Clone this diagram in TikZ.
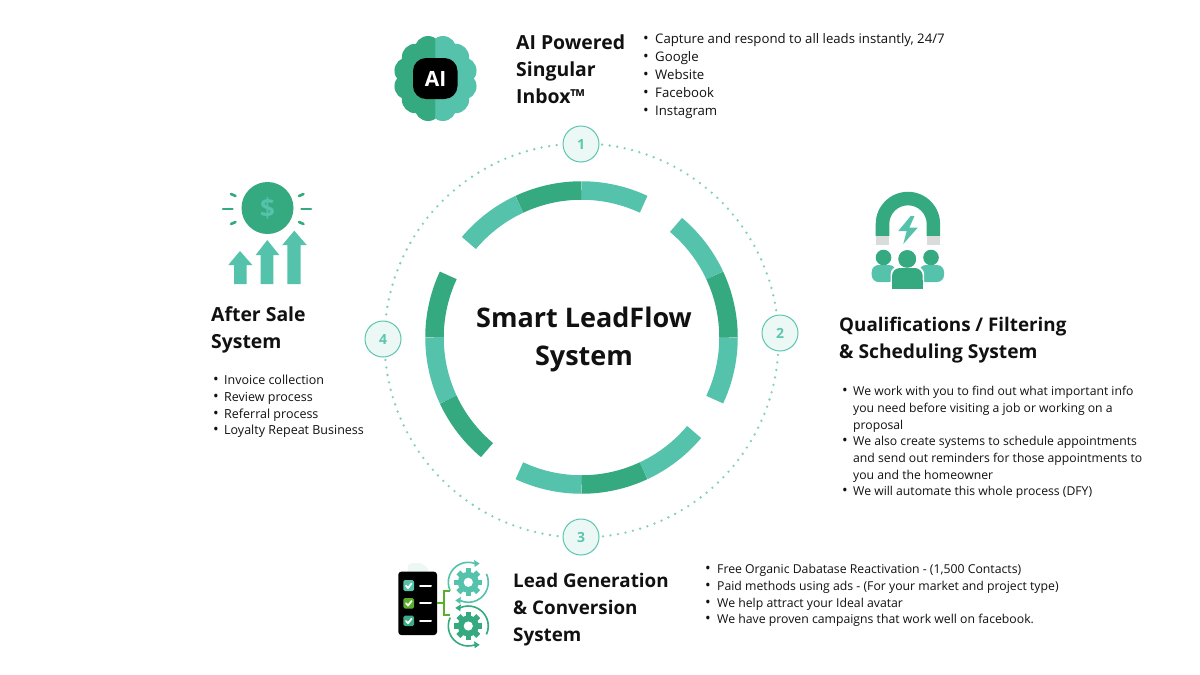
\documentclass[tikz,border=0pt]{standalone}
\usepackage{fontspec}
\setmainfont{Open Sans}
\definecolor{tdark}{HTML}{35A97F}
\definecolor{tlight}{HTML}{55C2AB}
\definecolor{tdot}{HTML}{7FD0BE}
\definecolor{tnum}{HTML}{5CC6AE}
\definecolor{tpale}{HTML}{EBF8F5}
\definecolor{tgreen}{HTML}{5AAE2A}
\definecolor{tgrey}{HTML}{D9DCDB}
\definecolor{tink}{HTML}{111111}
\tikzset{
 titletext/.style={anchor=base west,inner sep=0pt,text=tink,font=\fontsize{#1}{22}\selectfont\bfseries},
 bodytext/.style={anchor=base west,inner sep=0pt,text=tink,font=\fontsize{#1}{16}\selectfont},
 bullettext/.style={anchor=base,inner sep=0pt,text=tink,font=\fontsize{15}{16}\selectfont},
 centertext/.style={anchor=base,inner sep=0pt,text=tink,font=\fontsize{27}{30}\selectfont\bfseries},
 numbadge/.style={circle,draw=tnum,line width=1pt,fill=tpale,minimum size=36pt,inner sep=0pt,text=tnum,font=\fontsize{14}{16}\selectfont\bfseries},
 seg/.style={line width=18.5pt,draw=#1},
 dotring/.style={draw=tdot,line width=2.6pt,line cap=round,dash pattern=on 0pt off 7.6pt},
 rayline/.style={draw=tdark,line width=2.6pt,line cap=round},
 whitebar/.style={draw=white,line width=2pt,line cap=round},
 checkmark/.style={draw=white,line width=1.8pt,line cap=round,line join=round},
}
\newcommand{\ringseg}[3]{\draw[seg=#3] (#1:147pt) arc[start angle=#1,end angle=#2,radius=147pt];}
\newcommand{\gearshape}[4]{% x y colour rot
 \fill[#3] (#1,#2) circle (10.5pt);
 \foreach \a in {0,45,...,315}{\fill[#3,shift={(#1,#2)},rotate=\a+#4] (-2.8pt,0pt) rectangle (2.8pt,14pt);}
 \fill[white] (#1,#2) circle (4.6pt);
}
\begin{document}
\begin{tikzpicture}[x=1pt,y=-1pt]
\useasboundingbox (0,0) rectangle (1200,675);
\fill[white] (0,0) rectangle (1200,675);
% dotted ring
\draw[dotring] (581.5,340.5) circle (197pt);
% main ring
\begin{scope}[shift={(581.5,337.5)},x=1pt,y=1pt]
\ringseg{65}{90}{tlight}\ringseg{90}{115}{tdark}\ringseg{115}{140}{tlight}
\ringseg{-25}{0}{tlight}\ringseg{0}{25}{tdark}\ringseg{25}{50}{tlight}
\ringseg{-115}{-90}{tlight}\ringseg{-90}{-65}{tdark}\ringseg{-65}{-40}{tlight}
\ringseg{155}{180}{tdark}\ringseg{180}{205}{tlight}\ringseg{205}{230}{tdark}
\end{scope}
\node[numbadge] (n1) at (581,144) {1};
\node[numbadge] (n2) at (780,333) {2};
\node[numbadge] (n3) at (581,537) {3};
\node[numbadge] (n4) at (383,339) {4};
\node[centertext] (c1) at (584,327) {Smart LeadFlow};
\node[centertext] (c2) at (584,365) {System};
% ---------- AI icon
\begin{scope}
\clip (380,25) rectangle (435.5,130);
\fill[tdark] (435.5,78.5) circle (34pt);
\foreach \a in {15,45,...,345}{\fill[tdark] (435.5,78.5) ++(\a:28.5pt and 30pt) circle (13.5pt);}
\end{scope}
\begin{scope}
\clip (435.5,25) rectangle (490,130);
\fill[tlight] (435.5,78.5) circle (34pt);
\foreach \a in {15,45,...,345}{\fill[tlight] (435.5,78.5) ++(\a:28.5pt and 30pt) circle (13.5pt);}
\end{scope}
\fill[black,rounded corners=13pt] (413,58) rectangle (457.5,99);
\node[inner sep=0pt,text=white,font=\fontsize{21}{24}\selectfont\bfseries] (ailabel) at (435.5,78.5) {AI};
% ---------- Dollar icon
\fill[tdark] (267.5,208) circle (26pt);
\node[inner sep=0pt,text=tlight,font=\fontsize{26}{28}\selectfont\bfseries] (dollar) at (267.5,208) {\$};
\draw[rayline] (223,209) -- (232.5,209);
\draw[rayline] (301.5,209) -- (311,209);
\draw[rayline] (231,194) -- (235.5,196);
\draw[rayline] (231,224) -- (235.5,222);
\draw[rayline] (299,196) -- (303.5,194);
\draw[rayline] (299,222) -- (303.5,224);
\fill[tlight] (240,251) -- (252.3,265) -- (246.7,265) -- (246.7,284) -- (234,284) -- (234,265) -- (228.3,265) -- cycle;
\fill[tlight] (267.3,240) -- (279.3,255) -- (273.3,255) -- (273.3,284) -- (260.7,284) -- (260.7,255) -- (255.7,255) -- cycle;
\fill[tlight] (294.3,230.7) -- (306.7,245) -- (300.7,245) -- (300.7,284) -- (287.3,284) -- (287.3,245) -- (282.3,245) -- cycle;
% ---------- Magnet icon
\fill[tdark] (875.7,236) -- (875.7,224) arc[start angle=180,end angle=360,x radius=32.2pt,y radius=-32.2pt] -- (940.1,236) -- (926.7,236) -- (926.7,224) arc[start angle=0,end angle=180,x radius=18.7pt,y radius=18.7pt] -- (889.3,236) -- cycle;
\fill[tgrey] (875.7,236) rectangle (889.3,245);
\fill[tgrey] (926.7,236) rectangle (940.1,245);
\fill[tlight] (910.7,216) -- (898.3,231) -- (906.7,231) -- (903.3,244) -- (917.7,227.7) -- (909.3,227.7) -- (914.5,216) -- cycle;
\fill[tdark] (883.5,257.5) circle (7.8pt);
\fill[tdark] (931,257.5) circle (7.8pt);
\fill[tlight,rounded corners=7pt] (871.7,282) -- (871.7,265) -- (896,265) -- (896,282) -- cycle;
\fill[tlight,rounded corners=7pt] (919,282) -- (919,265) -- (944,265) -- (944,282) -- cycle;
\fill[tdark] (907.2,259) circle (8.8pt);
\fill[white,rounded corners=8pt] (890.5,290) -- (890.5,266.5) -- (924.2,266.5) -- (924.2,290) -- cycle;
\fill[tdark] (907.2,259) circle (8.8pt);
\fill[tdark,rounded corners=8pt] (892,288.5) -- (892,268) -- (922.7,268) -- (922.7,288.5) -- cycle;
\fill[tdark] (892,280) rectangle (922.7,288.5);
% ---------- Lead icon
\fill[tpale,rounded corners=2pt] (408,564) -- (415,563) -- (421,563) -- (428,568) -- (428,573) -- (408,573) -- cycle;
\fill[black,rounded corners=3pt] (398.3,571.7) rectangle (437,635);
\fill[tlight,rounded corners=1.5pt] (403.3,580) rectangle (414,591);
\fill[tgreen,rounded corners=1.5pt] (403.3,598) rectangle (414,608.5);
\fill[tdark!80!tlight,rounded corners=1.5pt] (403.3,615.7) rectangle (414,626);
\draw[checkmark] (406,585.8) -- (408,588) -- (411.6,583.5);
\draw[checkmark] (406,603.3) -- (408,605.5) -- (411.6,601);
\draw[checkmark] (406,621) -- (408,623.2) -- (411.6,618.7);
\draw[whitebar] (420,585.7) -- (431,585.7);
\draw[whitebar] (420,603.3) -- (431,603.3);
\draw[whitebar] (420,621) -- (431,621);
\draw[tgreen,line width=2pt] (437,603.3) -- (443.5,603.3);
\draw[tgreen,line width=2pt] (449.5,591) -- (443.5,591) -- (443.5,615) -- (449.5,615);
\gearshape{468.3}{582.3}{tlight}{0}
\gearshape{468.3}{626}{tdark}{0}
\begin{scope}[shift={(468.3,582.3)},x=1pt,y=1pt]
\draw[tlight,line width=1.6pt] (70:20pt) arc[start angle=70,end angle=205,radius=20pt];
\draw[tlight,line width=1.6pt] (25:20pt) arc[start angle=25,end angle=-115,radius=20pt];
\fill[tlight] (70:20pt) ++(-1pt,3.5pt) -- ++(5.5pt,-3.5pt) -- ++(-5pt,-3.5pt) -- cycle;
\fill[tlight] (-115:20pt) ++(1pt,3.5pt) -- ++(-5.5pt,-3.5pt) -- ++(5pt,-3.5pt) -- cycle;
\end{scope}
\begin{scope}[shift={(468.3,626)},x=1pt,y=1pt]
\draw[tdark,line width=1.6pt] (115:20pt) arc[start angle=115,end angle=-25,radius=20pt];
\draw[tdark,line width=1.6pt] (155:20pt) arc[start angle=155,end angle=290,radius=20pt];
\fill[tdark] (115:20pt) ++(1pt,3.5pt) -- ++(-5.5pt,-3.5pt) -- ++(5pt,-3.5pt) -- cycle;
\fill[tdark] (-70:20pt) ++(-1pt,3.5pt) -- ++(5.5pt,-3.5pt) -- ++(-5pt,-3.5pt) -- cycle;
\end{scope}
% ---------- Titles
\node[titletext=19.4] (ta1) at (516,49) {AI Powered};
\node[titletext=19.4] (ta2) at (516,76) {Singular};
\node[titletext=19.4] (ta3) at (516,103) {Inbox™};
\node[titletext=19.4] (tb1) at (211,321) {After Sale};
\node[titletext=19.4] (tb2) at (211,348) {System};
\node[titletext=18.8] (tc1) at (839,331) {Qualifications / Filtering};
\node[titletext=19.2] (tc2) at (839,358) {\& Scheduling System};
\node[titletext=18.8] (td1) at (513,587) {Lead Generation};
\node[titletext=18.8] (td2) at (513,614) {\& Conversion};
\node[titletext=18.8] (td3) at (513,641) {System};
% ---------- Body: top
\foreach \yy in {43,61,79,97,115}{\node[bullettext] at (646,\yy) {•};}
\node[bodytext=13.2] (a1) at (655,43) {Capture and respond to all leads instantly, 24/7};
\node[bodytext=13.2] (a2) at (655,61) {Google};
\node[bodytext=13.2] (a3) at (655,79) {Website};
\node[bodytext=13.2] (a4) at (655,97) {Facebook};
\node[bodytext=13.2] (a5) at (655,115) {Instagram};
% left
\foreach \yy in {384,401,418,434}{\node[bullettext] at (216,\yy) {•};}
\node[bodytext=12.5] (b1) at (224,384) {Invoice collection};
\node[bodytext=12.5] (b2) at (224,401) {Review process};
\node[bodytext=12.5] (b3) at (224,418) {Referral process};
\node[bodytext=12.5] (b4) at (224,434) {Loyalty Repeat Business};
% right
\foreach \yy in {395,445,495}{\node[bullettext] at (845,\yy) {•};}
\node[bodytext=12.2] (c1a) at (853,395) {We work with you to find out what important info};
\node[bodytext=12.2] (c1b) at (853,412) {you need before visiting a job or working on a};
\node[bodytext=12.2] (c1c) at (853,429) {proposal};
\node[bodytext=12.2] (c2a) at (853,445) {We also create systems to schedule appointments};
\node[bodytext=12.2] (c2b) at (853,462) {and send out reminders for those appointments to};
\node[bodytext=12.2] (c2c) at (853,479) {you and the homeowner};
\node[bodytext=12.2] (c3a) at (853,495) {We will automate this whole process (DFY)};
% bottom
\foreach \yy in {573,590,607,623}{\node[bullettext] at (708,\yy) {•};}
\node[bodytext=12.25] (d1) at (717,573) {Free Organic Dabatase Reactivation - (1,500 Contacts)};
\node[bodytext=12.25] (d2) at (717,590) {Paid methods using ads - (For your market and project type)};
\node[bodytext=12.25] (d3) at (717,607) {We help attract your Ideal avatar};
\node[bodytext=12.25] (d4) at (717,623) {We have proven campaigns that work well on facebook.};
\end{tikzpicture}
\end{document}
